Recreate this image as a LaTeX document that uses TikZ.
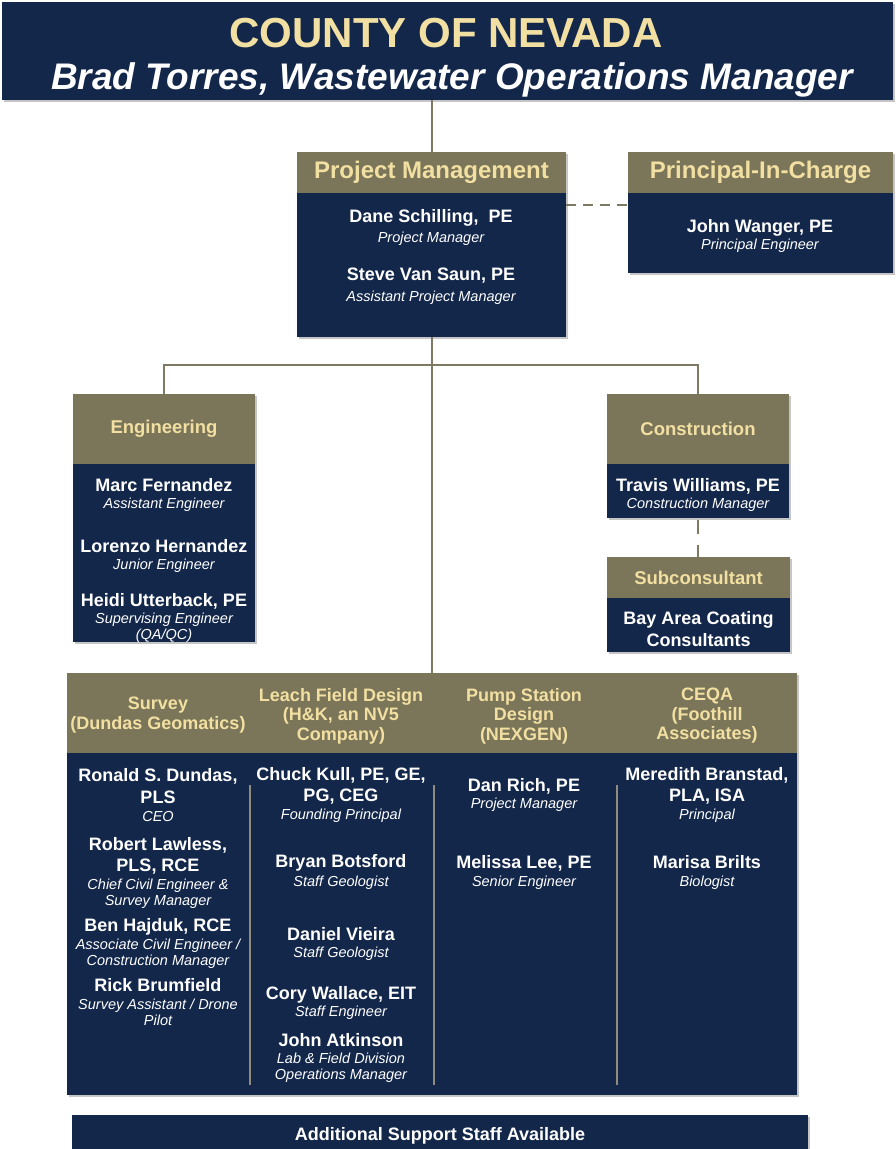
\documentclass[tikz,border=0pt]{standalone}
\usepackage{fontspec}
\setmainfont{Liberation Sans}
\usetikzlibrary{shadows}
\definecolor{navy}{HTML}{13274B}
\definecolor{olive}{HTML}{7B7659}
\definecolor{gold}{HTML}{F2DFA2}
\definecolor{linecol}{HTML}{7E7963}
\definecolor{rulecol}{HTML}{908D7E}
\tikzset{
  body/.style={fill=navy,inner sep=0pt,drop shadow={shadow xshift=2pt,shadow yshift=-2pt,fill=black!45,opacity=.5}},
  head/.style={fill=olive,inner sep=0pt,text=gold,font=\bfseries\fontsize{18.5}{20}\selectfont},
  bighead/.style={head,font=\bfseries\fontsize{24}{26}\selectfont},
  wire/.style={draw=linecol,line width=2pt},
  hdash/.style={wire,dash pattern=on 10pt off 7pt},
  vdash/.style={wire,dash pattern=on 14pt off 11pt},
  nm/.style={text=white,align=center,inner sep=0pt,font=\bfseries\fontsize{18}{21.5}\selectfont},
  rl/.style={text=white,align=center,inner sep=0pt,font=\itshape\fontsize{14.5}{16}\selectfont},
  colhead/.style={text=gold,align=center,inner sep=0pt,font=\bfseries\fontsize{18}{19.5}\selectfont}
}
\begin{document}
\begin{tikzpicture}[x=1pt,y=-1pt]
\useasboundingbox (0,0) rectangle (896,1149);
% county
\node[body,minimum width=891pt,minimum height=98pt] (county) at (447.5,51) {};
\node[text=gold,font=\bfseries\fontsize{42}{46}\selectfont] (title) at (446,33) {COUNTY OF NEVADA};
\node[text=white,font=\bfseries\itshape\fontsize{37}{40}\selectfont] (mgr) at (452,80) {Brad Torres, Wastewater Operations Manager};
% project management
\node[body,minimum width=269pt,minimum height=185pt] (pm) at (431.5,244.5) {};
\node[bighead,minimum width=269pt,minimum height=41pt,anchor=north] (pmhead) at (pm.north) {Project Management};
\node[nm] (dane) at (431,218) {Dane Schilling,\ \ PE};
\node[rl] (danerole) at (431,239) {Project Manager};
\node[nm] (steve) at (431,276) {Steve Van Saun, PE};
\node[rl] (steverole) at (431,298) {Assistant Project Manager};
% principal
\node[body,minimum width=265pt,minimum height=121pt] (pic) at (760.5,212.5) {};
\node[bighead,minimum width=265pt,minimum height=41pt,anchor=north] (pichead) at (pic.north) {Principal-In-Charge};
\node[nm] (john) at (760,228) {John Wanger, PE};
\node[rl] (johnrole) at (760,246) {Principal Engineer};
% engineering
\node[body,minimum width=182pt,minimum height=248pt] (eng) at (164,518) {};
\node[head,minimum width=182pt,minimum height=70pt,anchor=north] (enghead) at (eng.north) {Engineering};
\node[nm] (marc) at (164,485) {Marc Fernandez};
\node[rl] (marcrole) at (164,505) {Assistant Engineer};
\node[nm] (lorenzo) at (164,546) {Lorenzo Hernandez};
\node[rl] (lorenzorole) at (164,566) {Junior Engineer};
\node[nm] (heidi) at (164,601) {Heidi Utterback, PE};
\node[rl] (heidirole) at (164,628) {Supervising Engineer\\(QA/QC)};
% construction
\node[body,minimum width=182pt,minimum height=124pt] (con) at (698,456) {};
\node[head,minimum width=182pt,minimum height=70pt,anchor=north] (conhead) at (con.north) {Construction};
\node[nm] (travis) at (698,486) {Travis Williams, PE};
\node[rl] (travisrole) at (698,505) {Construction Manager};
\node[body,minimum width=183pt,minimum height=95pt] (sub) at (698.5,604.5) {};
\node[head,minimum width=183pt,minimum height=41pt,anchor=north] (subhead) at (sub.north) {Subconsultant};
\node[nm] (bay) at (698.5,629) {Bay Area Coating\\Consultants};
% team
\node[body,minimum width=730pt,minimum height=422pt] (team) at (432,884) {};
\node[fill=olive,inner sep=0pt,minimum width=730pt,minimum height=80pt,anchor=north] (teamhead) at (team.north) {};
\node[colhead] (survey) at (158,715) {Survey\\(Dundas Geomatics)};
\node[colhead] (leach) at (341,716) {Leach Field Design\\(H\&K, an NV5\\Company)};
\node[colhead] (pump) at (524,716) {Pump Station\\Design\\(NEXGEN)};
\node[colhead] (ceqa) at (707,716) {CEQA\\(Foothill\\Associates)};
\foreach \x in {250,434,617}
  \draw[draw=rulecol,line width=2pt] (\x,785) -- (\x,1085);
\foreach \y/\sty/\txt [count=\k] in {786/nm/{Ronald S. Dundas,\\PLS},816/rl/CEO,
    856/nm/{Robert Lawless,\\PLS, RCE},894/rl/{Chief Civil Engineer \&\\Survey Manager},
    927/nm/{Ben Hajduk, RCE},954/rl/{Associate Civil Engineer /\\Construction Manager},
    985/nm/{Rick Brumfield},1012/rl/{Survey Assistant / Drone\\Pilot}}
  \node[\sty] (sv\k) at (158,\y) {\txt};
\foreach \y/\sty/\txt [count=\k] in {786/nm/{Chuck Kull, PE, GE,\\PG, CEG},816/rl/{Founding Principal},
    863/nm/{Bryan Botsford},883/rl/{Staff Geologist},
    934/nm/{Daniel Vieira},954/rl/{Staff Geologist},
    995/nm/{Cory Wallace, EIT},1013/rl/{Staff Engineer},
    1040/nm/{John Atkinson},1068/rl/{Lab \& Field Division\\Operations Manager}}
  \node[\sty] (lf\k) at (341,\y) {\txt};
\foreach \y/\sty/\txt [count=\k] in {786/nm/{Dan Rich, PE},805/rl/{Project Manager},
    863/nm/{Melissa Lee, PE},883/rl/{Senior Engineer}}
  \node[\sty] (ps\k) at (524,\y) {\txt};
\foreach \y/\sty/\txt [count=\k] in {786/nm/{Meredith Branstad,\\PLA, ISA},816/rl/{Principal},
    862/nm/{Marisa Brilts},883/rl/{Biologist}}
  \node[\sty] (cq\k) at (707,\y) {\txt};
% support bar
\node[body,minimum width=736pt,minimum height=45pt] (support) at (440,1137.5) {};
\node[nm] (supporttxt) at (440,1136) {Additional Support Staff Available};
% lines
\draw[wire] (county.south -| pm.north) -- (pmhead.north);
\draw[hdash] ([yshift=-12pt]pmhead.south east) -- ([yshift=-12pt]pichead.south west);
\draw[wire] (pm.south) -- (teamhead.north -| pm.south);
\draw[wire] (enghead.north) |- ([yshift=-28pt]pm.south) -| (conhead.north);
\draw[vdash] ([yshift=-2pt]con.south) -- (subhead.north -| con.south);
\end{tikzpicture}
\end{document}
